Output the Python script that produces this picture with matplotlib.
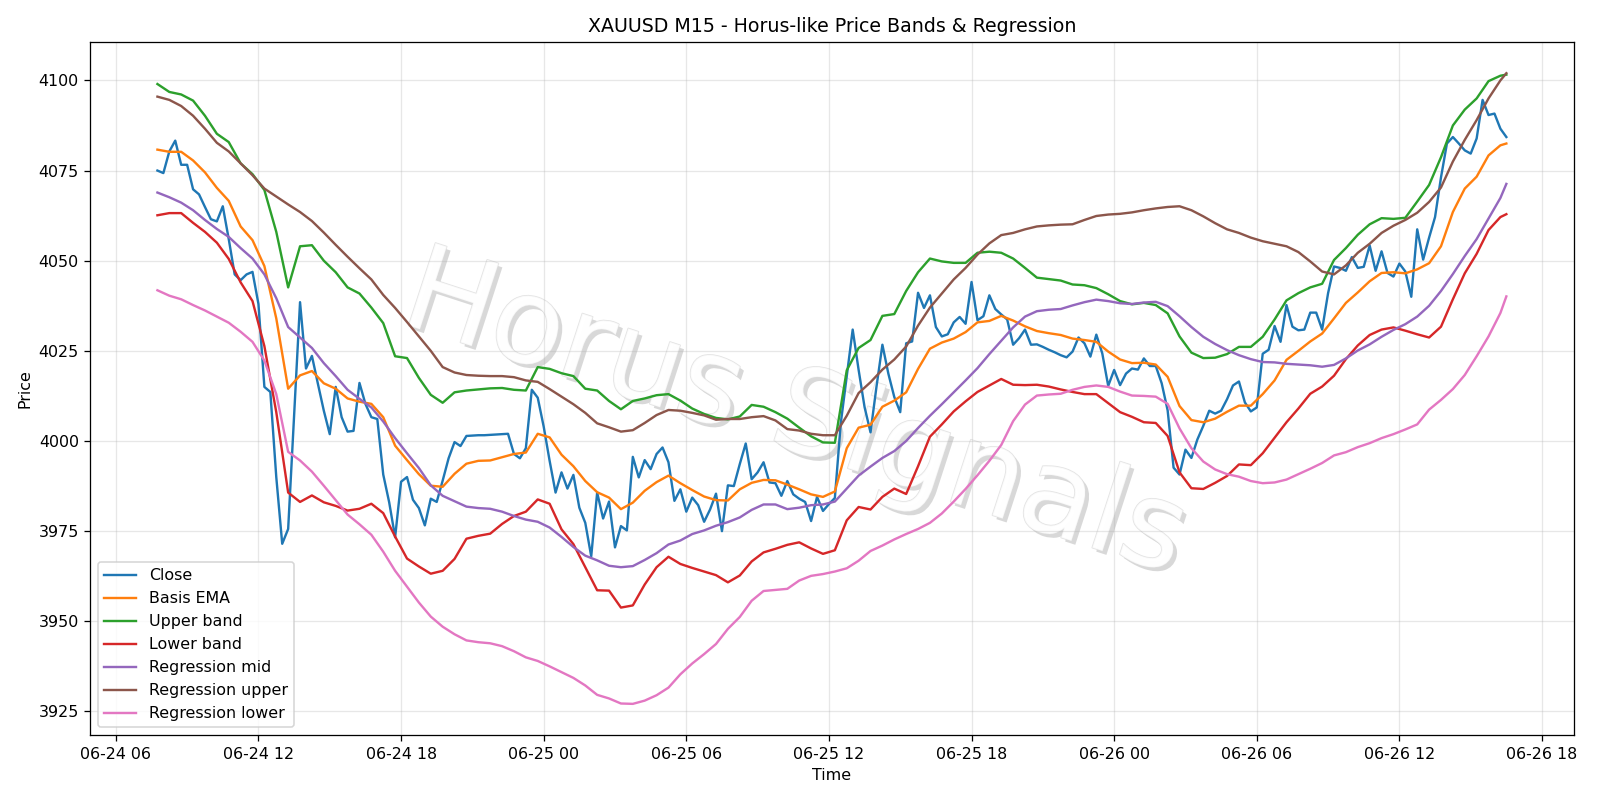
import matplotlib
matplotlib.use("Agg")
import matplotlib.pyplot as plt
import matplotlib.dates as mdates
import matplotlib.patheffects as pe
import pandas as pd

# M15 close, 06-24 07:45 .. 06-26 16:30
close = [
    4075.0, 4074.3, 4080.3, 4083.3, 4076.6, 4076.6, 4069.8, 4068.4, 4064.9, 4061.5,
    4060.9, 4065.1, 4056.0, 4046.2, 4044.6, 4046.2, 4046.9, 4038.0, 4015.0, 4013.6,
    3990.0, 3971.5, 3975.6, 4007.0, 4038.5, 4020.1, 4023.6, 4015.9, 4008.4, 4001.9,
    4015.0, 4006.6, 4002.6, 4002.8, 4016.1, 4010.3, 4006.6, 4006.1, 3990.7, 3983.0,
    3973.3, 3988.7, 3990.0, 3983.7, 3981.4, 3976.6, 3984.0, 3983.1, 3989.0, 3995.2,
    3999.7, 3998.6, 4001.4,
    4001.5, 4001.6, 4001.6, 4001.7, 4001.8, 4001.9, 4002.0, 3996.4, 3995.2, 3998.0,
    4014.2, 4012.0,
    4004.0, 3994.5, 3985.7, 3991.3, 3986.8, 3990.6, 3981.5, 3977.3, 3968.0, 3985.7,
    3978.5, 3983.2, 3970.5, 3976.4, 3975.2, 3995.6, 3989.9, 3994.7, 3992.2, 3996.4,
    3998.2, 3994.1, 3983.4, 3986.6, 3980.4, 3984.3, 3982.2, 3977.6, 3981.0, 3985.4,
    3975.0, 3987.7, 3987.5, 3993.6, 3999.3, 3989.4, 3991.3, 3994.1, 3988.5, 3988.3,
    3984.8, 3988.9, 3985.2, 3984.0, 3983.1, 3977.8, 3984.5, 3980.6,
    3982.5, 3984.2, 4005.0, 4018.0, 4030.9, 4019.7, 4009.4, 4002.4, 4015.0, 4026.7,
    4018.7, 4012.2, 4008.0, 4027.1, 4027.6, 4041.1, 4036.9, 4040.4, 4031.6, 4029.0,
    4029.6, 4032.9, 4034.4, 4032.5, 4044.1, 4033.5, 4034.6, 4040.4, 4036.6, 4035.1,
    4033.7, 4026.7, 4028.5, 4030.9, 4026.7, 4026.8, 4026.1, 4025.3, 4024.6, 4023.8,
    4023.2, 4024.8, 4028.7, 4027.1, 4023.4, 4029.5, 4024.3, 4015.3, 4019.7, 4015.5,
    4018.7, 4020.1, 4019.8, 4022.9, 4020.8, 4020.8, 4016.0, 4008.5, 3992.6, 3990.7,
    3997.6, 3995.3, 4000.4, 4004.2, 4008.4, 4007.6, 4008.4, 4011.6, 4015.4, 4016.5,
    4010.7, 4008.2, 4009.3, 4024.2, 4025.3, 4031.9, 4027.5, 4037.7, 4031.7, 4030.7,
    4030.9, 4035.6, 4035.6, 4030.9, 4041.0, 4048.4, 4048.0, 4047.2, 4051.0, 4048.0,
    4048.3, 4054.2, 4047.2, 4052.6, 4046.6, 4045.6, 4049.2, 4047.0, 4040.0, 4058.7,
    4050.3, 4056.4, 4062.1, 4073.1, 4082.5, 4084.3, 4082.5, 4080.6, 4079.7, 4083.9,
    4094.6, 4090.4, 4090.8, 4086.6, 4084.3,
]

# indicator values every 30 min from 06-24 07:45, plus the last bar 06-26 16:30
basis_ema = [
    4080.8, 4080.2, 4080.2, 4077.8, 4074.5, 4070.2, 4066.6, 4059.5, 4055.7, 4048.5,
    4034.0, 4014.5, 4018.2, 4019.4, 4016.0, 4014.5, 4011.8, 4010.9, 4010.3, 4006.6,
    3998.7, 3994.7, 3990.8, 3987.6, 3987.3, 3990.9, 3993.7, 3994.5,
    3994.6, 3995.5, 3996.4, 3996.8, 4002.0, 4001.0, 3996.2, 3993.0, 3988.9, 3985.8,
    3984.3, 3981.1, 3982.9, 3986.2, 3988.6, 3990.4, 3988.3, 3986.4, 3984.6, 3983.6,
    3983.5, 3986.6, 3988.4, 3989.2, 3989.1, 3987.9, 3986.6, 3985.2, 3984.5,
    3986.0, 3998.0, 4003.7, 4004.5, 4009.5, 4011.2, 4013.5, 4020.0, 4025.6, 4027.3,
    4028.4, 4030.2, 4032.9, 4033.3, 4034.7, 4033.4, 4031.8, 4030.5, 4029.9, 4029.4,
    4028.4, 4028.0, 4027.5, 4024.8, 4022.6, 4021.6, 4021.7, 4021.2, 4017.8, 4009.7,
    4005.8, 4005.2, 4006.2, 4008.1, 4009.8, 4009.8, 4013.0, 4016.8, 4022.5, 4025.0,
    4027.6, 4029.8, 4034.0, 4038.3, 4041.2, 4044.3, 4046.6, 4046.8, 4046.5, 4047.6,
    4049.3, 4054.0, 4063.5, 4070.0, 4073.3, 4079.2, 4082.0, 4082.5,
]
upper_band = [
    4099.0, 4096.8, 4096.1, 4094.4, 4090.2, 4085.2, 4082.9, 4077.0, 4074.0, 4069.6,
    4058.0, 4042.6, 4054.0, 4054.3, 4050.0, 4046.8, 4042.6, 4040.9, 4037.0, 4032.7,
    4023.5, 4023.0, 4017.5, 4012.8, 4010.6, 4013.5, 4014.0, 4014.3,
    4014.6, 4014.7, 4014.2, 4014.0, 4020.5, 4020.0, 4018.8, 4018.0, 4014.5, 4014.0,
    4011.1, 4008.8, 4011.1, 4011.8, 4012.7, 4013.0, 4011.2, 4009.0, 4007.5, 4006.4,
    4006.0, 4006.8, 4010.0, 4009.5, 4008.0, 4006.2, 4003.7, 4001.3, 3999.6,
    3999.5, 4019.6, 4025.8, 4028.0, 4034.7, 4035.2, 4041.6, 4046.8, 4050.6, 4049.8,
    4049.4, 4049.4, 4052.2, 4052.5, 4052.2, 4050.6, 4048.0, 4045.3, 4044.9, 4044.5,
    4043.4, 4043.2, 4042.4, 4040.7, 4038.8, 4037.9, 4038.3, 4037.7, 4035.4, 4029.0,
    4024.5, 4023.0, 4023.1, 4024.1, 4026.1, 4026.1, 4028.9, 4033.7, 4039.0, 4041.0,
    4042.6, 4043.6, 4050.2, 4053.5, 4057.2, 4060.1, 4061.8, 4061.6, 4061.9, 4066.4,
    4071.0, 4078.7, 4087.5, 4091.9, 4095.0, 4099.8, 4101.3, 4101.6,
]
lower_band = [
    4062.6, 4063.2, 4063.2, 4060.5, 4058.0, 4055.0, 4050.5, 4044.0, 4038.8, 4026.3,
    4008.0, 3985.7, 3983.1, 3984.9, 3983.0, 3982.0, 3980.7, 3981.2, 3982.6, 3980.0,
    3973.5, 3967.4, 3965.2, 3963.2, 3964.0, 3967.3, 3972.9, 3973.7,
    3974.3, 3977.0, 3979.2, 3980.4, 3983.8, 3982.6, 3975.5, 3971.4, 3965.0, 3958.6,
    3958.5, 3953.8, 3954.4, 3960.2, 3965.0, 3967.9, 3965.9, 3964.8, 3963.8, 3962.8,
    3960.8, 3962.7, 3966.6, 3969.1, 3970.1, 3971.2, 3971.9, 3970.2, 3968.7,
    3969.7, 3978.0, 3981.7, 3981.0, 3984.5, 3986.8, 3985.3, 3993.0, 4001.2, 4004.6,
    4008.2, 4011.0, 4013.6, 4015.4, 4017.2, 4015.6, 4015.5, 4015.6, 4015.1, 4014.3,
    4013.6, 4013.0, 4013.0, 4010.5, 4008.0, 4006.7, 4005.2, 4005.0, 4001.4, 3991.3,
    3986.9, 3986.7, 3988.4, 3990.3, 3993.5, 3993.3, 3996.6, 4000.9, 4005.2, 4009.0,
    4013.1, 4015.1, 4018.1, 4022.7, 4026.5, 4029.4, 4030.9, 4031.5, 4030.6, 4029.6,
    4028.7, 4031.7, 4039.3, 4046.5, 4051.9, 4058.5, 4062.1, 4062.9,
]
reg_mid = [
    4068.9, 4067.6, 4066.1, 4064.0, 4061.3, 4058.8, 4056.6, 4053.5, 4050.6, 4046.2,
    4039.6, 4031.6, 4028.7, 4025.8, 4021.6, 4018.0, 4014.2, 4011.7, 4009.3, 4005.4,
    4000.8, 3996.6, 3992.5, 3987.7, 3984.8, 3983.3, 3981.8, 3981.4,
    3981.2, 3980.4, 3979.2, 3978.2, 3977.6, 3976.0, 3973.4, 3970.6, 3968.2, 3966.9,
    3965.4, 3965.0, 3965.3, 3967.0, 3968.9, 3971.3, 3972.4, 3974.2, 3975.2, 3976.5,
    3977.5, 3978.8, 3980.9, 3982.4, 3982.4, 3981.1, 3981.5, 3982.2, 3982.4,
    3983.2, 3986.8, 3990.4, 3992.9, 3995.3, 3997.2, 4000.0, 4003.6, 4007.0, 4010.2,
    4013.5, 4016.8, 4020.2, 4024.1, 4027.8, 4031.5, 4034.5, 4036.0, 4036.4, 4036.6,
    4037.6, 4038.5, 4039.2, 4038.8, 4038.2, 4038.0, 4038.4, 4038.6, 4037.4, 4034.6,
    4031.6, 4028.9, 4026.9, 4025.2, 4023.8, 4022.7, 4021.9, 4021.8, 4021.4, 4021.2,
    4021.0, 4020.6, 4021.1, 4022.9, 4025.1, 4026.8, 4028.9, 4030.8, 4032.4, 4034.5,
    4037.5, 4041.6, 4046.3, 4051.3, 4056.0, 4061.7, 4067.4, 4071.3,
]
reg_upper = [
    4095.5, 4094.6, 4092.9, 4090.2, 4086.6, 4082.7, 4080.3, 4077.0, 4073.7, 4070.0,
    4067.8, 4065.6, 4063.5, 4061.0, 4057.8, 4054.4, 4051.1, 4047.9, 4044.8, 4040.5,
    4036.9, 4033.0, 4029.0, 4025.0, 4020.5, 4019.0, 4018.3, 4018.1,
    4018.0, 4018.0, 4017.7, 4016.8, 4016.4, 4014.4, 4012.3, 4010.2, 4007.8, 4004.9,
    4003.8, 4002.6, 4003.0, 4005.0, 4007.2, 4008.6, 4008.4, 4007.8, 4007.1, 4005.9,
    4006.1, 4006.1, 4006.6, 4006.9, 4005.7, 4003.3, 4002.9, 4002.0, 4001.6,
    4001.6, 4007.0, 4013.3, 4016.3, 4019.8, 4022.6, 4026.2, 4032.0, 4037.0, 4040.9,
    4044.8, 4048.0, 4051.7, 4054.8, 4057.1, 4057.7, 4058.7, 4059.5, 4059.8, 4060.0,
    4060.1, 4061.3, 4062.4, 4062.8, 4063.0, 4063.4, 4064.0, 4064.5, 4064.9, 4065.1,
    4064.0, 4062.3, 4060.4, 4058.7, 4057.7, 4056.4, 4055.4, 4054.7, 4054.0, 4052.4,
    4049.8, 4047.0, 4046.2, 4048.7, 4052.2, 4054.7, 4057.7, 4059.7, 4061.3, 4063.3,
    4066.3, 4070.3, 4077.5, 4083.5, 4089.0, 4095.0, 4100.0, 4102.0,
]
reg_lower = [
    4041.8, 4040.3, 4039.3, 4037.7, 4036.2, 4034.5, 4032.8, 4030.3, 4027.5, 4022.3,
    4013.0, 3997.0, 3994.6, 3991.5, 3987.6, 3983.6, 3979.6, 3976.9, 3974.0, 3969.3,
    3964.0, 3959.6, 3955.2, 3951.3, 3948.5, 3946.4, 3944.7, 3944.2,
    3943.9, 3943.1, 3941.7, 3940.0, 3939.0, 3937.5, 3935.9, 3934.3, 3932.2, 3929.6,
    3928.6, 3927.2, 3927.1, 3928.0, 3929.5, 3931.6, 3935.3, 3938.3, 3940.9, 3943.7,
    3947.9, 3951.2, 3955.7, 3958.4, 3958.7, 3959.0, 3961.3, 3962.6, 3963.1,
    3963.8, 3964.7, 3966.8, 3969.5, 3971.0, 3972.7, 3974.2, 3975.6, 3977.3, 3979.9,
    3983.2, 3986.7, 3990.5, 3994.5, 3998.9, 4005.5, 4010.1, 4012.6, 4012.9, 4013.1,
    4014.2, 4015.0, 4015.4, 4015.0, 4013.7, 4012.6, 4012.5, 4012.3, 4010.3, 4003.5,
    3998.0, 3994.3, 3992.1, 3990.8, 3990.1, 3988.9, 3988.3, 3988.5, 3989.3, 3990.8,
    3992.3, 3993.9, 3996.0, 3996.9, 3998.3, 3999.4, 4000.8, 4001.9, 4003.2, 4004.6,
    4008.7, 4011.4, 4014.4, 4018.3, 4023.5, 4029.0, 4035.5, 4040.1,
]

t_close = pd.date_range("2025-06-24 07:45", periods=len(close), freq="15min")
t_ind = pd.date_range("2025-06-24 07:45", periods=len(basis_ema) - 1, freq="30min")
t_ind = t_ind.append(pd.DatetimeIndex([t_close[-1]]))

fig, ax = plt.subplots(figsize=(14, 7), dpi=1600 / 14)

ax.plot(t_close, close, label="Close")
ax.plot(t_ind, basis_ema, label="Basis EMA")
ax.plot(t_ind, upper_band, label="Upper band")
ax.plot(t_ind, lower_band, label="Lower band")
ax.plot(t_ind, reg_mid, label="Regression mid")
ax.plot(t_ind, reg_upper, label="Regression upper")
ax.plot(t_ind, reg_lower, label="Regression lower")

# watermark, behind the lines
ax.text(0.475, 0.46, "Horus Signals", transform=ax.transAxes,
        fontsize=75, color="white", alpha=0.8, rotation=-18,
        ha="center", va="center", zorder=1.5,
        path_effects=[pe.withSimplePatchShadow(offset=(2.5, -2.5), shadow_rgbFace="gray", alpha=0.3),
                      pe.Stroke(linewidth=1.0, foreground="#dcdcdc"), pe.Normal()])

ax.xaxis.set_major_locator(mdates.HourLocator(byhour=[0, 6, 12, 18]))
ax.xaxis.set_major_formatter(mdates.DateFormatter("%m-%d %H"))
ax.set_title("XAUUSD M15 - Horus-like Price Bands & Regression")
ax.set_xlabel("Time")
ax.set_ylabel("Price")
ax.grid(alpha=0.3)
ax.legend(loc="lower left")
plt.tight_layout()
plt.savefig("out.png")
